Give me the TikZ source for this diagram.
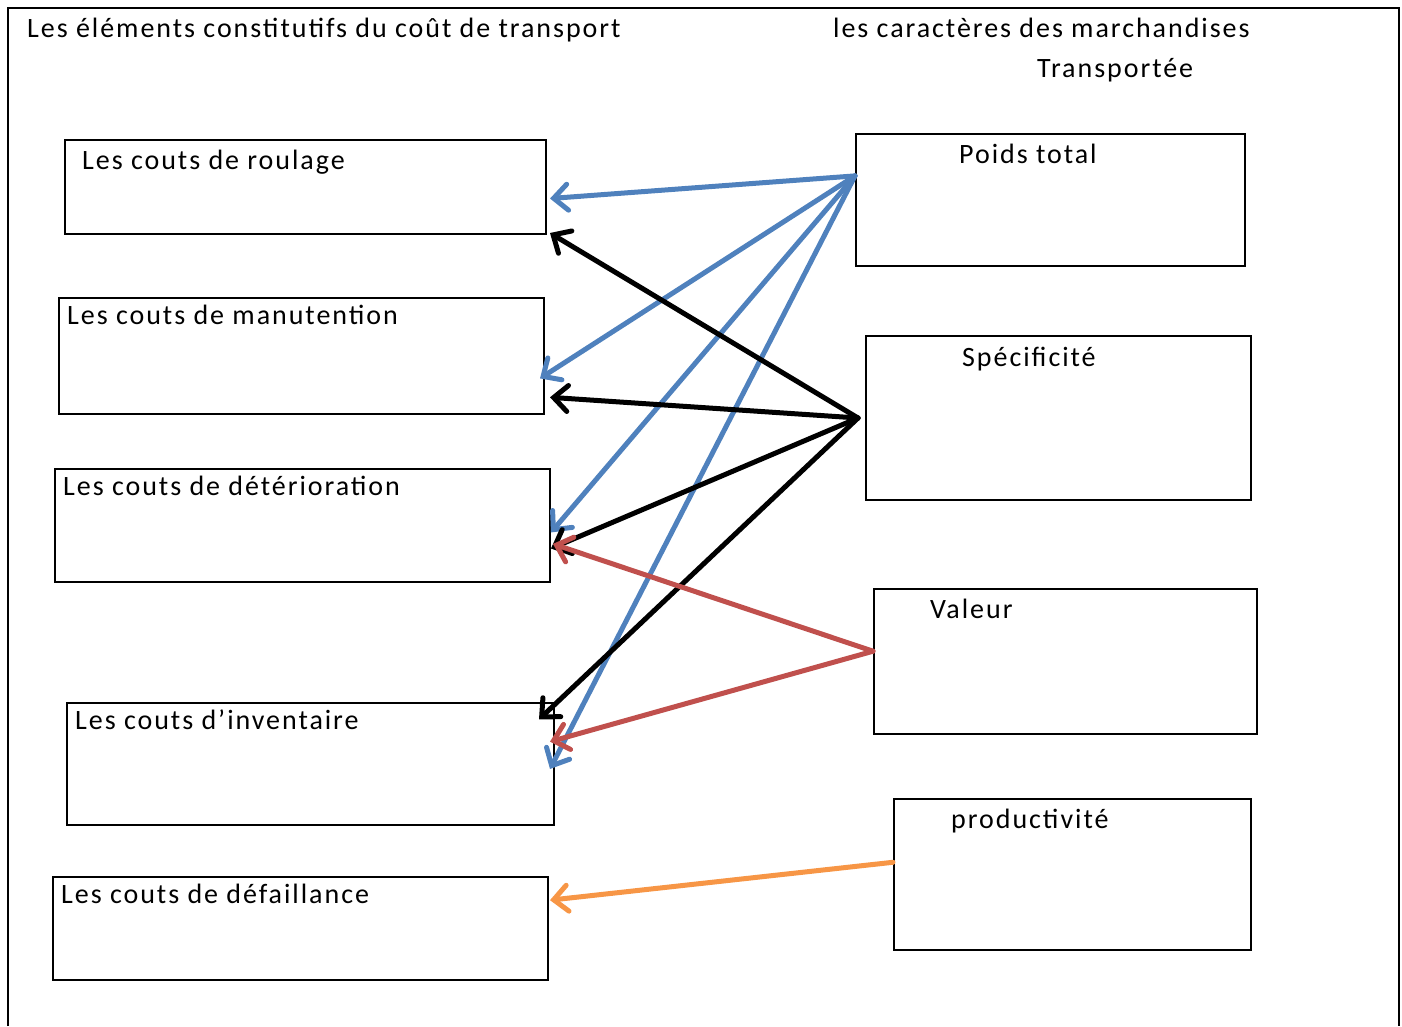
\documentclass[tikz,border=0pt]{standalone}
\usepackage{fontspec}
\setmainfont[LetterSpace=7]{Carlito}
\usetikzlibrary{arrows.meta, calc}
\definecolor{linkblue}{HTML}{4F81BD}
\definecolor{linkred}{HTML}{C0504D}
\definecolor{linkorange}{HTML}{F79646}

\begin{document}
\begin{tikzpicture}[
      x=1pt, y=-1pt,
      box/.style={draw, line width=2pt, anchor=north west, inner sep=0pt},
      txt/.style={anchor=base west, inner sep=0pt, font=\fontsize{28}{34}\selectfont},
      link/.style={line width=5pt, line cap=round,
                   -{Straight Barb[length=14pt, width=26pt, line cap=round]}}
    ]
    \useasboundingbox (0,0) rectangle (1402,1026);

    % --- Outer frame ---
    \draw[line width=2pt] (8,1026) -- (8,8) -- (1399,8) -- (1399,1026);

    % --- Headings ---
    \node[txt] (head-left)  at (27,37)   {Les éléments constitutifs du coût de transport};
    \node[txt] (head-right) at (833,37)  {les caractères des marchandises};
    \node[txt] (head-right2) at (1037,77) {Transportée};

    % --- Cost elements (left column) ---
    \node[box, minimum width=481pt, minimum height=94pt]  (roulage) at (64,139)  {};
    \node[box, minimum width=485pt, minimum height=116pt] (manut)   at (58,297)  {};
    \node[box, minimum width=495pt, minimum height=113pt] (deter)   at (54,468)  {};
    \node[box, minimum width=487pt, minimum height=122pt] (invent)  at (66,702)  {};
    \node[box, minimum width=495pt, minimum height=103pt] (defail)  at (52,876)  {};

    \node[txt] (lbl-roulage) at (82,169) {Les couts de roulage};
    \node[txt] (lbl-manut)   at (67,324) {Les couts de manutention};
    \node[txt] (lbl-deter)   at (63,495) {Les couts de détérioration};
    \node[txt] (lbl-invent)  at (75,729) {Les couts d’inventaire};
    \node[txt] (lbl-defail)  at (61,903) {Les couts de défaillance};

    % --- Goods characteristics (right column) ---
    \node[box, minimum width=389pt, minimum height=132pt] (poids)  at (855,133) {};
    \node[box, minimum width=385pt, minimum height=164pt] (specif) at (865,335) {};
    \node[box, minimum width=383pt, minimum height=145pt] (valeur) at (873,588) {};
    \node[box, minimum width=357pt, minimum height=151pt] (produc) at (893,798) {};

    \node[txt] (lbl-poids)  at (959,163) {Poids total};
    \node[txt] (lbl-specif) at (962,366) {Spécificité};
    \node[txt] (lbl-valeur) at (930,618) {Valeur};
    \node[txt] (lbl-produc) at (951,828) {productivité};

    % --- Poids total ---
    \draw[link, linkblue] ($(poids.north west)!0.32!(poids.south west)$) -- ($(roulage.north east)!0.62!(roulage.south east)+(3,0)$);
    \draw[link, linkblue] ($(poids.north west)!0.32!(poids.south west)$) -- ($(manut.north east)!0.69!(manut.south east)+(-5,0)$);
    \draw[link, linkblue] ($(poids.north west)!0.32!(poids.south west)$) -- ($(deter.north east)!0.56!(deter.south east)$);
    \draw[link, linkblue] ($(poids.north west)!0.32!(poids.south west)$) -- ($(invent.north east)!0.54!(invent.south east)+(-5,0)$);

    % --- Specificite ---
    \draw[link, black] ($(specif.west)+(-7,0)$) -- ($(roulage.south east)+(3,-2)$);
    \draw[link, black] ($(specif.west)+(-7,0)$) -- ($(manut.north east)!0.85!(manut.south east)+(5,0)$);
    \draw[link, black] ($(specif.west)+(-7,0)$) -- ($(deter.north east)!0.70!(deter.south east)$);
    \draw[link, black] ($(specif.west)+(-7,0)$) -- ($(invent.north east)!0.14!(invent.south east)+(-16,0)$);

    % --- Valeur ---
    \draw[link, linkred] ($(valeur.north west)!0.43!(valeur.south west)$) -- ($(deter.north east)!0.66!(deter.south east)+(2,0)$);
    \draw[link, linkred] ($(valeur.north west)!0.43!(valeur.south west)$) -- ($(invent.north east)!0.32!(invent.south east)+(-5,0)$);

    % --- Productivite ---
    \draw[link, linkorange] ($(produc.north west)!0.42!(produc.south west)$) -- ($(defail.north east)!0.23!(defail.south east)+(1,0)$);

  \end{tikzpicture}
\end{document}
